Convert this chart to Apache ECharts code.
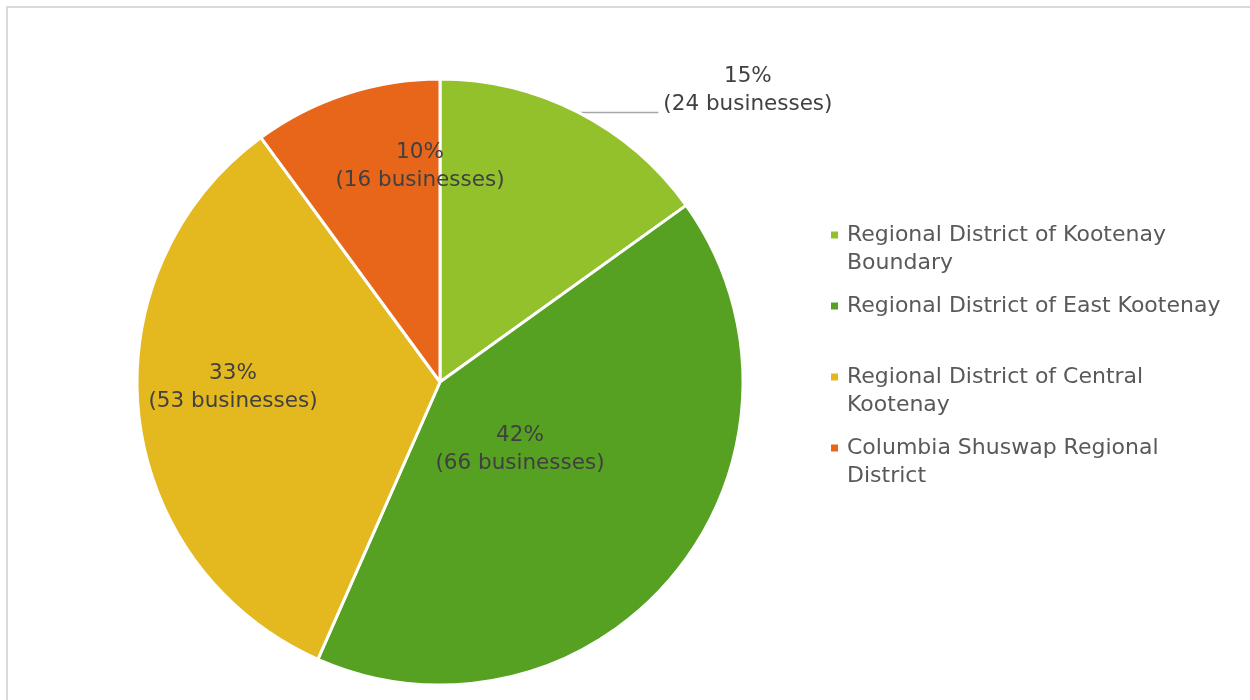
<!DOCTYPE html>
<html>
<head>
<meta charset="utf-8">
<script src="https://cdn.jsdelivr.net/npm/echarts@6/dist/echarts.min.js"></script>
<style>
  html, body { margin: 0; padding: 0; background: #ffffff; }
  #chart { width: 1250px; height: 700px; }
</style>
</head>
<body>
<div id="chart"></div>
<script>
// Businesses by regional district
const districts = [
  'Regional District of Kootenay Boundary',
  'Regional District of East Kootenay',
  'Regional District of Central Kootenay',
  'Columbia Shuswap Regional District'
];
const businesses = [24, 66, 53, 16];
const colors = ['#92C12B', '#56A022', '#E4B81F', '#E8661A'];

// Legend text lines per entry
const legendLines = {
  'Regional District of Kootenay Boundary': ['Regional District of Kootenay', 'Boundary'],
  'Regional District of East Kootenay': ['Regional District of East Kootenay', ' '],
  'Regional District of Central Kootenay': ['Regional District of Central', 'Kootenay'],
  'Columbia Shuswap Regional District': ['Columbia Shuswap Regional', 'District']
};

// Centres of the labels drawn inside their slices (null = outside label with leader line)
const insideLabelCenters = [null, [520, 449], [233, 387], [420, 166]];

const FONT = 'DejaVu Sans';
const LABEL_SIZE = 21.5;
const LEGEND_SIZE = 22;
const total = businesses.reduce((a, b) => a + b, 0);

const chart = echarts.init(document.getElementById('chart'));
chart.setOption({
  animation: false,
  backgroundColor: '#ffffff',
  graphic: [{
    type: 'rect',
    shape: { x: 7, y: 7, width: 1400, height: 900 },
    style: { fill: 'none', stroke: '#d9d9d9', lineWidth: 2 },
    silent: true
  }],
  legend: {
    orient: 'vertical',
    left: 826,
    top: 188,
    itemWidth: 7,
    itemHeight: 7,
    itemGap: -13,
    icon: 'rect',
    itemStyle: { borderWidth: 0 },
    data: districts,
    // a blank first line keeps each marker level with the entry's first text line
    formatter: name => ' \n' + legendLines[name].map(l => '{t|' + l + '}').join('\n'),
    textStyle: {
      fontFamily: FONT,
      fontSize: LEGEND_SIZE,
      color: '#595959',
      lineHeight: 28,
      rich: {
        t: {
          fontFamily: FONT, fontSize: LEGEND_SIZE, color: '#595959',
          lineHeight: 28, padding: [0, 0, 0, 4]
        }
      }
    }
  },
  series: [{
    type: 'pie',
    center: [440, 382],
    radius: 303,
    startAngle: 90,
    clockwise: true,
    avoidLabelOverlap: false,
    itemStyle: { borderColor: '#ffffff', borderWidth: 3 },
    label: {
      fontFamily: FONT,
      fontSize: LABEL_SIZE,
      color: '#404040',
      lineHeight: 28,
      formatter: p => {
        const pct = Math.round(p.value / total * 100);
        return '{c|' + pct + '%}\n{c|(' + p.value + ' businesses)}';
      },
      rich: {
        c: {
          fontFamily: FONT, fontSize: LABEL_SIZE,
          color: '#404040', lineHeight: 28, align: 'center'
        }
      }
    },
    labelLine: {
      show: true,
      length: 0,
      length2: 80,
      smooth: false,
      lineStyle: { color: '#a6a6a6', width: 1.5 }
    },
    labelLayout: function (params) {
      const c = insideLabelCenters[params.dataIndex];
      if (!c) return {};
      return { x: c[0], y: c[1], align: 'center', verticalAlign: 'middle' };
    },
    data: districts.map((name, i) => {
      const item = { name: name, value: businesses[i], itemStyle: { color: colors[i] } };
      if (insideLabelCenters[i]) {
        item.label = { position: 'inside' };
        item.labelLine = { show: false };
      } else {
        item.label = { position: 'outside', padding: [0, 0, 44, 0] };
      }
      return item;
    })
  }]
});
</script>
</body>
</html>
